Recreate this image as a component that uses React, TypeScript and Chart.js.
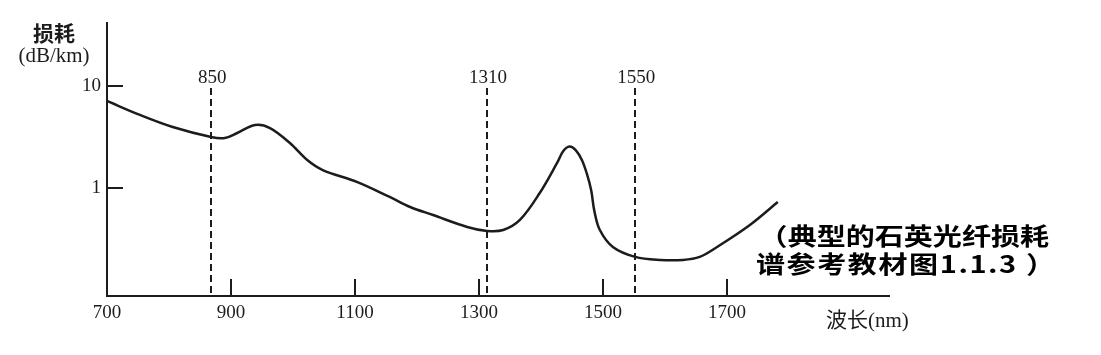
import React, { useEffect, useRef } from "react";
import { Chart, registerables } from "chart.js";

Chart.register(...registerables);

// Wavelength (nm) and loss (dB/km)
const wavelengths = [700, 753, 806, 868, 890, 910, 939, 963, 995, 1023, 1048, 1103, 1156, 1189, 1226, 1281, 1313, 1339, 1366, 1398, 1426, 1436, 1446, 1456, 1466, 1474, 1481, 1486, 1495, 1516, 1552, 1592, 1629, 1656, 1684, 1737, 1782];
const losses = [7.13, 5.2, 3.96, 3.16, 3.09, 3.46, 4.15, 3.87, 2.76, 1.88, 1.5, 1.15, 0.817, 0.651, 0.543, 0.415, 0.379, 0.387, 0.486, 0.893, 1.76, 2.3, 2.55, 2.35, 1.88, 1.38, 0.95, 0.6, 0.387, 0.264, 0.211, 0.197, 0.197, 0.211, 0.264, 0.434, 0.729];

// Dashed marker lines (drawn positions) and their labels
const markerWavelengths = [868, 1313, 1552];
const markerLabels = ["850", "1310", "1550"];

// Axis ticks and labels
const xTickValues = [900, 1100, 1300, 1500, 1700];
const xLabelValues = [700, 900, 1100, 1300, 1500, 1700];
const yTickValues = [1, 10];
const yTickLabels = ["1", "10"];

const yTitle = "损耗";
const yUnit = "(dB/km)";
const xTitle = "波长(nm)";
const noteLine1 = "（典型的石英光纤损耗";
const noteLine2 = "谱参考教材图1.1.3 ）";

const INK = "#1c1c1c";
const SERIF = '"Liberation Serif", "DejaVu Serif", serif';
const CJK = '"Noto Sans CJK SC", "Noto Sans", sans-serif';

function drawText(
  ctx: CanvasRenderingContext2D,
  text: string,
  x: number,
  y: number,
  font: string,
  align: CanvasTextAlign,
  sx = 1,
  color = INK,
  spacing = "0px"
) {
  ctx.save();
  ctx.translate(x, y);
  ctx.scale(sx, 1);
  ctx.font = font;
  (ctx as any).letterSpacing = spacing;
  ctx.fillStyle = color;
  ctx.textAlign = align;
  ctx.textBaseline = "middle";
  ctx.fillText(text, 0, 0);
  ctx.restore();
}

const decor = {
  id: "decor",
  beforeDatasetsDraw(chart: any) {
    const { ctx, chartArea: a, scales } = chart;
    const x = scales.x;
    const y = scales.y;
    ctx.save();
    ctx.strokeStyle = INK;
    ctx.lineWidth = 2;
    ctx.beginPath();
    ctx.moveTo(a.left, a.top);
    ctx.lineTo(a.left, a.bottom);
    ctx.lineTo(a.right, a.bottom);
    for (const v of xTickValues) {
      const px = Math.round(x.getPixelForValue(v));
      ctx.moveTo(px, a.bottom);
      ctx.lineTo(px, a.bottom - 17);
    }
    for (const v of yTickValues) {
      const py = Math.round(y.getPixelForValue(v));
      ctx.moveTo(a.left, py);
      ctx.lineTo(a.left + 16, py);
    }
    ctx.stroke();

    ctx.setLineDash([7, 4]);
    ctx.beginPath();
    for (const v of markerWavelengths) {
      const px = Math.round(x.getPixelForValue(v));
      ctx.moveTo(px, a.top + 66);
      ctx.lineTo(px, a.bottom);
    }
    ctx.stroke();
    ctx.restore();
  },
  afterDraw(chart: any) {
    const { ctx, chartArea: a, scales } = chart;
    const x = scales.x;
    const y = scales.y;
    const tickFont = `19px ${SERIF}`;
    xLabelValues.forEach((v) => {
      drawText(ctx, String(v), x.getPixelForValue(v), a.bottom + 17, tickFont, "center");
    });
    yTickValues.forEach((v, i) => {
      drawText(ctx, yTickLabels[i], a.left - 6, y.getPixelForValue(v), tickFont, "right");
    });
    markerWavelengths.forEach((v, i) => {
      drawText(ctx, markerLabels[i], x.getPixelForValue(v) + 1, a.top + 56, tickFont, "center");
    });
    drawText(ctx, yTitle, 54, 33, `bold 21px ${CJK}`, "center");
    drawText(ctx, yUnit, 54, 57, `20px ${SERIF}`, "center", 1.05);
    drawText(ctx, xTitle, 826, 321, `21px "Liberation Serif", ${CJK}`, "left");
    drawText(ctx, noteLine1, 1049, 236, `bold 24px ${CJK}`, "right", 1.21, "#000");
    drawText(ctx, noteLine2, 756, 264, `bold 24px ${CJK}`, "left", 1.21, "#000", "1.3px");
  },
};

export default function App() {
  const ref = useRef<HTMLCanvasElement | null>(null);
  useEffect(() => {
    document.body.style.margin = "0";
    const canvas = ref.current;
    if (!canvas) return;
    const chart = new Chart(canvas, {
      type: "line",
      data: {
        datasets: [
          {
            data: wavelengths.map((w, i) => ({ x: w, y: losses[i] })),
            borderColor: INK,
            borderWidth: 2.5,
            pointRadius: 0,
            tension: 0.35,
            fill: false,
          },
        ],
      },
      options: {
        animation: false,
        responsive: false,
        maintainAspectRatio: false,
        layout: { padding: { left: 107, right: 211, top: 22, bottom: 59 } },
        plugins: { legend: { display: false }, tooltip: { enabled: false } },
        scales: {
          x: { type: "linear", min: 700, max: 1963, display: false, bounds: "data" },
          y: { type: "logarithmic", min: 0.0873, max: 42.4, display: false, bounds: "data" },
        },
      },
      plugins: [decor],
    });
    return () => chart.destroy();
  }, []);
  return (
    <div style={{ width: 1101, height: 355, background: "#fff" }}>
      <canvas ref={ref} width={1101} height={355} style={{ display: "block" }} />
    </div>
  );
}
